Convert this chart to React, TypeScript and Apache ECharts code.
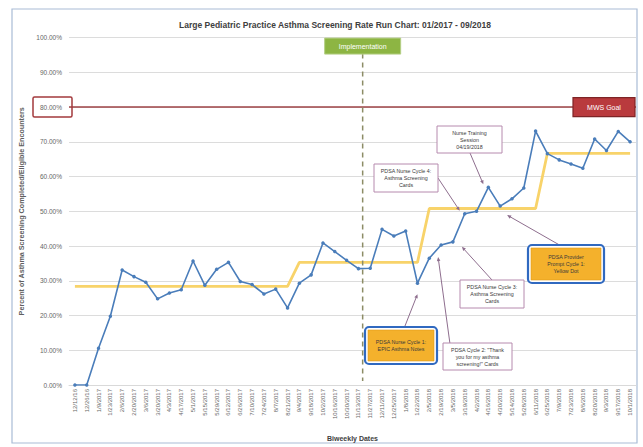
import React, { useEffect, useRef } from 'react';
import * as echarts from 'echarts';

const dates = [
  '12/12/16', '12/26/16', '1/9/2017', '1/23/2017', '2/6/2017', '2/20/2017', '3/6/2017', '3/20/2017',
  '4/3/2017', '4/17/2017', '5/1/2017', '5/15/2017', '5/29/2017', '6/12/2017', '6/26/2017', '7/10/2017',
  '7/24/2017', '8/7/2017', '8/21/2017', '9/4/2017', '9/18/2017', '10/2/2017', '10/16/2017', '10/30/2017',
  '11/13/2017', '11/27/2017', '12/11/2017', '12/25/2017', '1/8/2018', '1/22/2018', '2/5/2018', '2/19/2018',
  '3/5/2018', '3/19/2018', '4/2/2018', '4/16/2018', '4/30/2018', '5/14/2018', '5/28/2018', '6/11/2018',
  '6/25/2018', '7/9/2018', '7/23/2018', '8/6/2018', '8/20/2018', '9/3/2018', '9/17/2018', '10/1/2018',
];

const screeningRate = [
  0, 0, 10.6, 19.8, 33.1, 31.2, 29.6, 24.8,
  26.5, 27.4, 35.7, 28.7, 33.3, 35.3, 29.8, 28.9,
  26.2, 27.6, 22.2, 29.3, 31.7, 40.9, 38.4, 35.9,
  33.5, 33.6, 44.8, 42.9, 44.3, 29.3, 36.5, 40.3,
  41.2, 49.3, 50.0, 56.9, 51.5, 53.6, 56.7, 73.1,
  66.6, 64.8, 63.6, 62.4, 70.8, 67.5, 73.0, 70.0,
];

const medianRate = [
  28.4, 28.4, 28.4, 28.4, 28.4, 28.4, 28.4, 28.4,
  28.4, 28.4, 28.4, 28.4, 28.4, 28.4, 28.4, 28.4,
  28.4, 28.4, 28.4, 35.3, 35.3, 35.3, 35.3, 35.3,
  35.3, 35.3, 35.3, 35.3, 35.3, 35.3, 50.8, 50.8,
  50.8, 50.8, 50.8, 50.8, 50.8, 50.8, 50.8, 50.8,
  66.7, 66.7, 66.7, 66.7, 66.7, 66.7, 66.7, 66.7,
];

const goalRate = 80;
const goalLabel = 'MWS Goal';
const implementationLabel = 'Implementation';
// implementation falls between these two category indices
const implementationBetween = [24, 25];
const implementationFraction = 0.36;

const titleText = 'Large Pediatric Practice Asthma Screening Rate Run Chart: 01/2017 - 09/2018';
const yAxisName = 'Percent of Asthma Screening Completed/Eligible Encounters';
const xAxisName = 'Biweekly Dates';

type Note = {
  text: string;
  kind: 'orange' | 'white';
  box: [number, number, number, number];
  from: [number, number];
  target: number;
  offset: [number, number];
};

const notes: Note[] = [
  { text: 'PDSA Nurse Cycle 1:\nEPIC Asthma Notes', kind: 'orange', box: [365, 327, 72, 37], from: [403, 331], target: 29, offset: [0, 11] },
  { text: 'PDSA Cycle 2: "Thank\nyou for my asthma\nscreening!" Cards', kind: 'white', box: [443, 343, 69, 27], from: [450, 344], target: 31, offset: [-3, 12] },
  { text: 'PDSA Nurse Cycle 3:\nAsthma Screening\nCards', kind: 'white', box: [460, 280, 64, 28], from: [492, 280], target: 32, offset: [9, 5] },
  { text: 'PDSA Nurse Cycle 4:\nAsthma Screening\nCards', kind: 'white', box: [374, 164, 64, 28], from: [438, 178], target: 33, offset: [-5, -3] },
  { text: 'Nurse Training\nSession\n04/19/2018', kind: 'white', box: [437, 126, 65, 27], from: [470, 153], target: 35, offset: [-5, -3] },
  { text: 'PDSA Provider\nPrompt Cycle 1:\nYellow Dot', kind: 'orange', box: [528, 245, 76, 38], from: [563, 247], target: 36, offset: [7, 9] },
];

const FONT = '"Liberation Sans", Arial, sans-serif';

export default function App() {
  const ref = useRef<HTMLDivElement>(null);

  useEffect(() => {
    document.body.style.margin = '0';
    const el = ref.current;
    if (!el) return;
    const chart = echarts.init(el, null, { renderer: 'svg' });

    const option: any = {
      animation: false,
      backgroundColor: '#ffffff',
      title: {
        text: titleText,
        left: 330,
        top: 15,
        textAlign: 'center',
        textStyle: { fontFamily: FONT, fontSize: 8.5, fontWeight: 'bold', color: '#404040' },
      },
      grid: { left: 69, right: 7, top: 37.6, bottom: 61, containLabel: false },
      xAxis: {
        type: 'category',
        data: dates,
        boundaryGap: true,
        name: xAxisName,
        nameLocation: 'middle',
        nameGap: 50,
        nameTextStyle: { fontFamily: FONT, fontSize: 7, fontWeight: 'bold', color: '#404040' },
        axisLine: { show: true, lineStyle: { color: '#d9d9d9' } },
        axisTick: { show: false },
        axisLabel: {
          interval: 0,
          rotate: 90,
          fontFamily: FONT,
          fontSize: 6,
          color: '#666666',
          margin: 4,
        },
      },
      yAxis: {
        type: 'value',
        min: 0,
        max: 100,
        interval: 10,
        name: yAxisName,
        nameLocation: 'middle',
        nameGap: 42,
        nameTextStyle: { fontFamily: FONT, fontSize: 7.2, fontWeight: 'bold', color: '#606060' },
        axisLine: { show: false },
        axisTick: { show: false },
        splitLine: { lineStyle: { color: '#dcdcdc', width: 1 } },
        axisLabel: {
          fontFamily: FONT,
          fontSize: 6.5,
          color: '#666666',
          margin: 7,
          formatter: (v: number) => v.toFixed(2) + '%',
        },
      },
      series: [
        {
          name: 'Median',
          type: 'line',
          data: medianRate,
          symbol: 'none',
          lineStyle: { color: '#F8D36A', width: 2.8 },
          z: 2,
          markLine: {
            silent: true,
            symbol: 'none',
            label: { show: false },
            lineStyle: { color: '#9E4346', width: 1.5, type: 'solid' },
            data: [{ yAxis: goalRate }],
          },
        },
        {
          name: 'Screening Rate',
          type: 'line',
          data: screeningRate,
          symbol: 'circle',
          symbolSize: 3.5,
          itemStyle: { color: '#4A7DBA' },
          lineStyle: { color: '#4A7DBA', width: 1.6 },
          z: 3,
        },
      ],
    };

    chart.setOption(option);

    const px = (i: number, v: number) => chart.convertToPixel({ gridIndex: 0 } as any, [i, v]) as number[];

    const graphics: any[] = [];

    // outer frame
    graphics.push({
      type: 'rect', silent: true, z: 0,
      shape: { x: 12, y: 9, width: 625, height: 434 },
      style: { fill: 'none', stroke: '#A9BCD6', lineWidth: 1.2 },
    });

    // implementation dashed line
    const a = px(implementationBetween[0], 0);
    const b = px(implementationBetween[1], 0);
    const xImpl = a[0] + (b[0] - a[0]) * implementationFraction;
    const top100 = px(0, 100)[1];
    graphics.push({
      type: 'line', silent: true, z: 5,
      shape: { x1: xImpl, y1: top100 + 16, x2: xImpl, y2: a[1] - 4 },
      style: { stroke: '#8C8C66', lineWidth: 1.5, lineDash: [5, 4] },
    });
    graphics.push({
      type: 'rect', silent: true, z: 6,
      shape: { x: xImpl - 38, y: top100 + 0.5, width: 76, height: 16 },
      style: { fill: '#8DB543', stroke: '#B5CF85', lineWidth: 1 },
    });
    graphics.push({
      type: 'text', silent: true, z: 7,
      style: { text: implementationLabel, x: xImpl, y: top100 + 8.5, align: 'center', verticalAlign: 'middle', fontFamily: FONT, fontSize: 7, fill: '#ffffff' },
    });

    // goal label box
    const goalY = px(0, goalRate)[1];
    graphics.push({
      type: 'rect', silent: true, z: 6,
      shape: { x: 573, y: goalY - 9.5, width: 62, height: 19 },
      style: { fill: '#B93A3D', stroke: '#7E2426', lineWidth: 1.2 },
    });
    graphics.push({
      type: 'text', silent: true, z: 7,
      style: { text: goalLabel, x: 604, y: goalY, align: 'center', verticalAlign: 'middle', fontFamily: FONT, fontSize: 7, fill: '#ffffff' },
    });
    // red outline around 80% tick label
    graphics.push({
      type: 'rect', silent: true, z: 6,
      shape: { x: 33, y: goalY - 10, width: 39, height: 20, r: 1.5 },
      style: { fill: 'none', stroke: '#A33A3D', lineWidth: 1.5 },
    });

    // annotations
    notes.forEach((n) => {
      const [bx, by, bw, bh] = n.box;
      const p = px(n.target, screeningRate[n.target]);
      const tx = p[0] + n.offset[0];
      const ty = p[1] + n.offset[1];
      const [fx, fy] = n.from;
      const dx = tx - fx;
      const dy = ty - fy;
      const len = Math.sqrt(dx * dx + dy * dy) || 1;
      const ux = dx / len;
      const uy = dy / len;
      const L = 4;
      const W = 1.8;
      graphics.push({
        type: 'line', silent: true, z: 8,
        shape: { x1: fx, y1: fy, x2: tx - ux * L * 0.8, y2: ty - uy * L * 0.8 },
        style: { stroke: '#8E6E8E', lineWidth: 1 },
      });
      graphics.push({
        type: 'polygon', silent: true, z: 8,
        shape: {
          points: [
            [tx, ty],
            [tx - ux * L - uy * W, ty - uy * L + ux * W],
            [tx - ux * L + uy * W, ty - uy * L - ux * W],
          ],
        },
        style: { fill: '#8E6E8E' },
      });
      if (n.kind === 'orange') {
        graphics.push({
          type: 'rect', silent: true, z: 9,
          shape: { x: bx, y: by, width: bw, height: bh, r: 4 },
          style: { fill: '#ffffff', stroke: '#3069C0', lineWidth: 2.2 },
        });
        graphics.push({
          type: 'rect', silent: true, z: 9,
          shape: { x: bx + 3, y: by + 3, width: bw - 6, height: bh - 6 },
          style: { fill: '#F4B12C', stroke: '#E29A1A', lineWidth: 0.6 },
        });
      } else {
        graphics.push({
          type: 'rect', silent: true, z: 9,
          shape: { x: bx, y: by, width: bw, height: bh },
          style: { fill: '#ffffff', stroke: '#B68AAE', lineWidth: 1 },
        });
      }
      graphics.push({
        type: 'text', silent: true, z: 10,
        style: {
          text: n.text, x: bx + bw / 2, y: by + bh / 2, align: 'center', verticalAlign: 'middle',
          fontFamily: FONT, fontSize: 5.3, lineHeight: 7, fill: '#3a3a3a',
        },
      });
    });

    chart.setOption({ graphic: graphics });

    return () => chart.dispose();
  }, []);

  return <div ref={ref} style={{ width: 643, height: 447 }} />;
}
